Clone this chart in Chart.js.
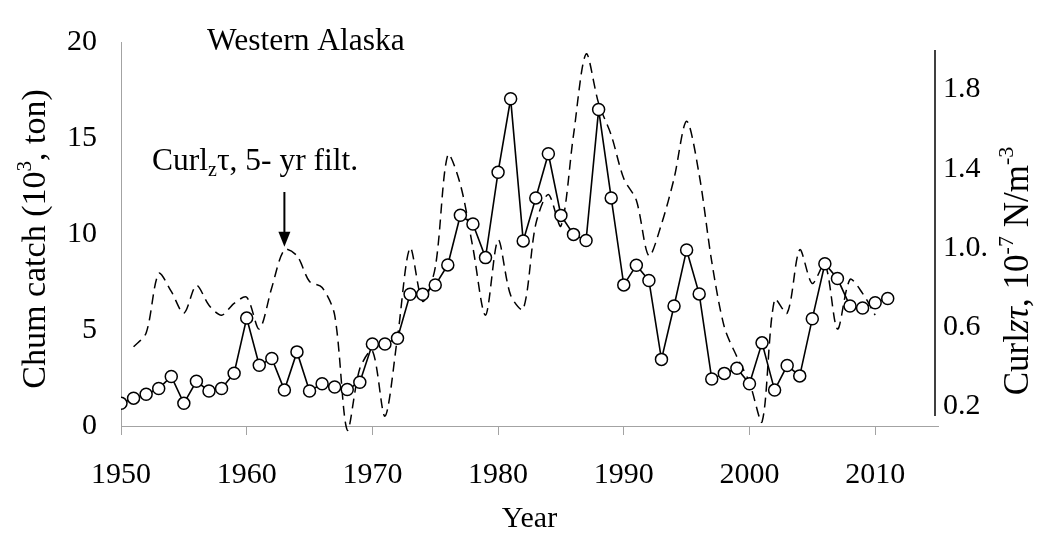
<!DOCTYPE html>
<html lang="en">
<head>
<meta charset="UTF-8">
<title>Western Alaska chum catch and wind stress curl</title>
<script src="https://cdn.jsdelivr.net/npm/chart.js"></script>
<style>
  html, body { margin: 0; padding: 0; background: #fff; }
  #chart { display: block; }
</style>
</head>
<body>
<canvas id="chart" width="1039" height="534"></canvas>
<script>
  // chum catch, 10^3 ton
  const catchYears = [1950, 1951, 1952, 1953, 1954, 1955, 1956, 1957, 1958, 1959,
                      1960, 1961, 1962, 1963, 1964, 1965, 1966, 1967, 1968, 1969,
                      1970, 1971, 1972, 1973, 1974, 1975, 1976, 1977, 1978, 1979,
                      1980, 1981, 1982, 1983, 1984, 1985, 1986, 1987, 1988, 1989,
                      1990, 1991, 1992, 1993, 1994, 1995, 1996, 1997, 1998, 1999,
                      2000, 2001, 2002, 2003, 2004, 2005, 2006, 2007, 2008, 2009,
                      2010, 2011];
  const catchTons = [1.18, 1.45, 1.65, 1.95, 2.58, 1.18, 2.33, 1.82, 1.95, 2.75,
                     5.62, 3.16, 3.52, 1.87, 3.86, 1.82, 2.20, 2.03, 1.90, 2.28,
                     4.27, 4.27, 4.57, 6.86, 6.86, 7.34, 8.39, 10.98, 10.52, 8.77,
                     13.22, 17.04, 9.64, 11.88, 14.18, 10.97, 9.98, 9.66, 16.48, 11.88,
                     7.35, 8.37, 7.58, 3.47, 6.25, 9.17, 6.88, 2.45, 2.74, 3.01,
                     2.20, 4.33, 1.87, 3.15, 2.61, 5.59, 8.45, 7.68, 6.25, 6.15,
                     6.42, 6.64];

  // wind stress curl, 5-yr filtered, 10^-7 N/m^3
  const curlYears = [1951, 1952, 1953, 1954, 1955, 1956, 1957, 1958, 1959,
                     1960, 1961, 1962, 1963, 1964, 1965, 1966, 1967, 1968, 1969,
                     1970, 1971, 1972, 1973, 1974, 1975, 1976, 1977, 1978, 1979,
                     1980, 1981, 1982, 1983, 1984, 1985, 1986, 1987, 1988, 1989,
                     1990, 1991, 1992, 1993, 1994, 1995, 1996, 1997, 1998, 1999,
                     2000, 2001, 2002, 2003, 2004, 2005, 2006, 2007, 2008, 2009,
                     2010];
  const curlValues = [0.50, 0.57, 0.87, 0.78, 0.67, 0.81, 0.71, 0.66, 0.72,
                      0.75, 0.59, 0.80, 0.99, 0.96, 0.83, 0.80, 0.66, 0.08, 0.39,
                      0.48, 0.15, 0.55, 1.00, 0.73, 0.90, 1.47, 1.32, 1.00, 0.66,
                      1.04, 0.76, 0.69, 1.12, 1.27, 1.11, 1.57, 1.98, 1.73, 1.57,
                      1.35, 1.24, 0.96, 1.12, 1.35, 1.64, 1.37, 0.93, 0.60, 0.45,
                      0.32, 0.12, 0.74, 0.67, 0.99, 0.82, 0.92, 0.59, 0.84, 0.77,
                      0.66];

  const yearTicks = [1950, 1960, 1970, 1980, 1990, 2000, 2010];
  const catchTicks = [0, 5, 10, 15, 20];
  const curlTicks = [0.2, 0.6, 1.0, 1.4, 1.8];
  const curlTickLabels = ['0.2', '0.6', '1.0.', '1.4', '1.8'];
  const arrowYear = 1963;

  const SERIF = "'Liberation Serif', 'Times New Roman', serif";
  const AXIS_GREY = '#a3a3a3';

  Chart.defaults.font.family = SERIF;
  Chart.defaults.color = '#000';

  // draw a run of text pieces; style: n = normal, i = italic, sup, sub
  function drawRich(ctx, parts, x, y, size, align) {
    const fontFor = st => {
      if (st === 'sup' || st === 'sub') return Math.round(size * 0.62) + 'px ' + SERIF;
      if (st === 'i') return 'italic ' + size + 'px ' + SERIF;
      return size + 'px ' + SERIF;
    };
    let total = 0;
    parts.forEach(p => { ctx.font = fontFor(p[1]); total += ctx.measureText(p[0]).width; });
    let cx = align === 'center' ? x - total / 2 : x;
    ctx.textAlign = 'left';
    ctx.textBaseline = 'alphabetic';
    parts.forEach(p => {
      ctx.font = fontFor(p[1]);
      let dy = 0;
      if (p[1] === 'sup') dy = -size * 0.42;
      if (p[1] === 'sub') dy = size * 0.2;
      ctx.fillText(p[0], cx, y + dy);
      cx += ctx.measureText(p[0]).width;
    });
  }

  const decorations = {
    id: 'decorations',
    afterDraw(chart) {
      const ctx = chart.ctx;
      const xs = chart.scales.x;
      const ys2 = chart.scales.y2;
      ctx.save();
      ctx.fillStyle = '#000';
      ctx.strokeStyle = '#000';

      // right axis line
      ctx.lineWidth = 1.5;
      ctx.beginPath();
      ctx.moveTo(chart.chartArea.right - 3, ys2.getPixelForValue(2.0));
      ctx.lineTo(chart.chartArea.right - 3, ys2.getPixelForValue(0.15));
      ctx.stroke();

      // axis titles
      ctx.save();
      ctx.translate(45, 239);
      ctx.rotate(-Math.PI / 2);
      drawRich(ctx, [['Chum catch (10', 'n'], ['3', 'sup'], [', ton)', 'n']], 0, 0, 34, 'center');
      ctx.restore();

      ctx.save();
      ctx.translate(1028, 271);
      ctx.rotate(-Math.PI / 2);
      drawRich(ctx, [['Curl', 'n'], ['z\u03C4', 'i'], [', 10', 'n'], ['-7', 'sup'],
                     [' N/m', 'n'], ['-3', 'sup']], 0, 0, 35, 'center');
      ctx.restore();

      // labels inside the plot
      drawRich(ctx, [['Western Alaska', 'n']], 207, 50, 31.5, 'left');
      drawRich(ctx, [['Curl', 'n'], ['z', 'sub'], ['\u03C4, 5- yr filt.', 'n']], 152, 170, 31.5, 'left');

      // arrow down to the filtered curl peak
      const ax = xs.getPixelForValue(arrowYear);
      const tip = ys2.getPixelForValue(curlValues[curlYears.indexOf(arrowYear)]) - 3;
      ctx.lineWidth = 2;
      ctx.beginPath();
      ctx.moveTo(ax, 192);
      ctx.lineTo(ax, tip - 12);
      ctx.stroke();
      ctx.beginPath();
      ctx.moveTo(ax - 6, tip - 15);
      ctx.lineTo(ax + 6, tip - 15);
      ctx.lineTo(ax, tip);
      ctx.closePath();
      ctx.fill();

      ctx.restore();
    }
  };

  new Chart(document.getElementById('chart'), {
    type: 'line',
    data: {
      datasets: [
        {
          label: 'Chum catch',
          data: catchYears.map((yr, i) => ({ x: yr, y: catchTons[i] })),
          yAxisID: 'y',
          borderColor: '#000',
          borderWidth: 1.6,
          pointRadius: 6,
          pointBorderWidth: 1.5,
          pointBackgroundColor: '#fff',
          pointBorderColor: '#000',
          tension: 0,
          order: 0
        },
        {
          label: 'Curl, 5-yr filt.',
          data: curlYears.map((yr, i) => ({ x: yr, y: curlValues[i] })),
          yAxisID: 'y2',
          borderColor: '#000',
          borderWidth: 1.5,
          borderDash: [10, 6],
          pointRadius: 0,
          tension: 0.3,
          clip: false,
          order: 1
        }
      ]
    },
    options: {
      responsive: false,
      devicePixelRatio: 1,
      animation: false,
      layout: { padding: { top: 23, right: 0, bottom: 0, left: 0 } },
      plugins: {
        legend: { display: false },
        tooltip: { enabled: false }
      },
      scales: {
        x: {
          type: 'linear',
          min: 1950,
          max: 2015,
          afterBuildTicks: s => { s.ticks = yearTicks.map(v => ({ value: v })); },
          afterFit: s => { s.height = 108; },
          ticks: { font: { size: 30 }, color: '#000', padding: 22, maxRotation: 0, callback: v => String(v) },
          grid: { display: true, drawOnChartArea: false, drawTicks: true, tickLength: 9, color: AXIS_GREY },
          border: { display: true, color: AXIS_GREY, width: 1 },
          title: { display: true, text: 'Year', font: { size: 30, lineHeight: 1 }, color: '#000', padding: { top: 0, bottom: 0 } }
        },
        y: {
          position: 'left',
          min: 0,
          max: 20,
          afterBuildTicks: s => { s.ticks = catchTicks.map(v => ({ value: v })); },
          afterFit: s => { s.width = 121; },
          ticks: { font: { size: 30 }, color: '#000', padding: 24 },
          grid: { display: false, drawTicks: false },
          border: { display: true, color: AXIS_GREY, width: 1 }
        },
        y2: {
          position: 'right',
          min: 0.1,
          max: 2.04,
          afterBuildTicks: s => { s.ticks = curlTicks.map(v => ({ value: v })); },
          afterFit: s => { s.width = 101; },
          ticks: { font: { size: 30 }, color: '#000', padding: 5,
                   callback: v => curlTickLabels[curlTicks.indexOf(v)] },
          grid: { display: false, drawTicks: false },
          border: { display: false }
        }
      }
    },
    plugins: [decorations]
  });
</script>
</body>
</html>
